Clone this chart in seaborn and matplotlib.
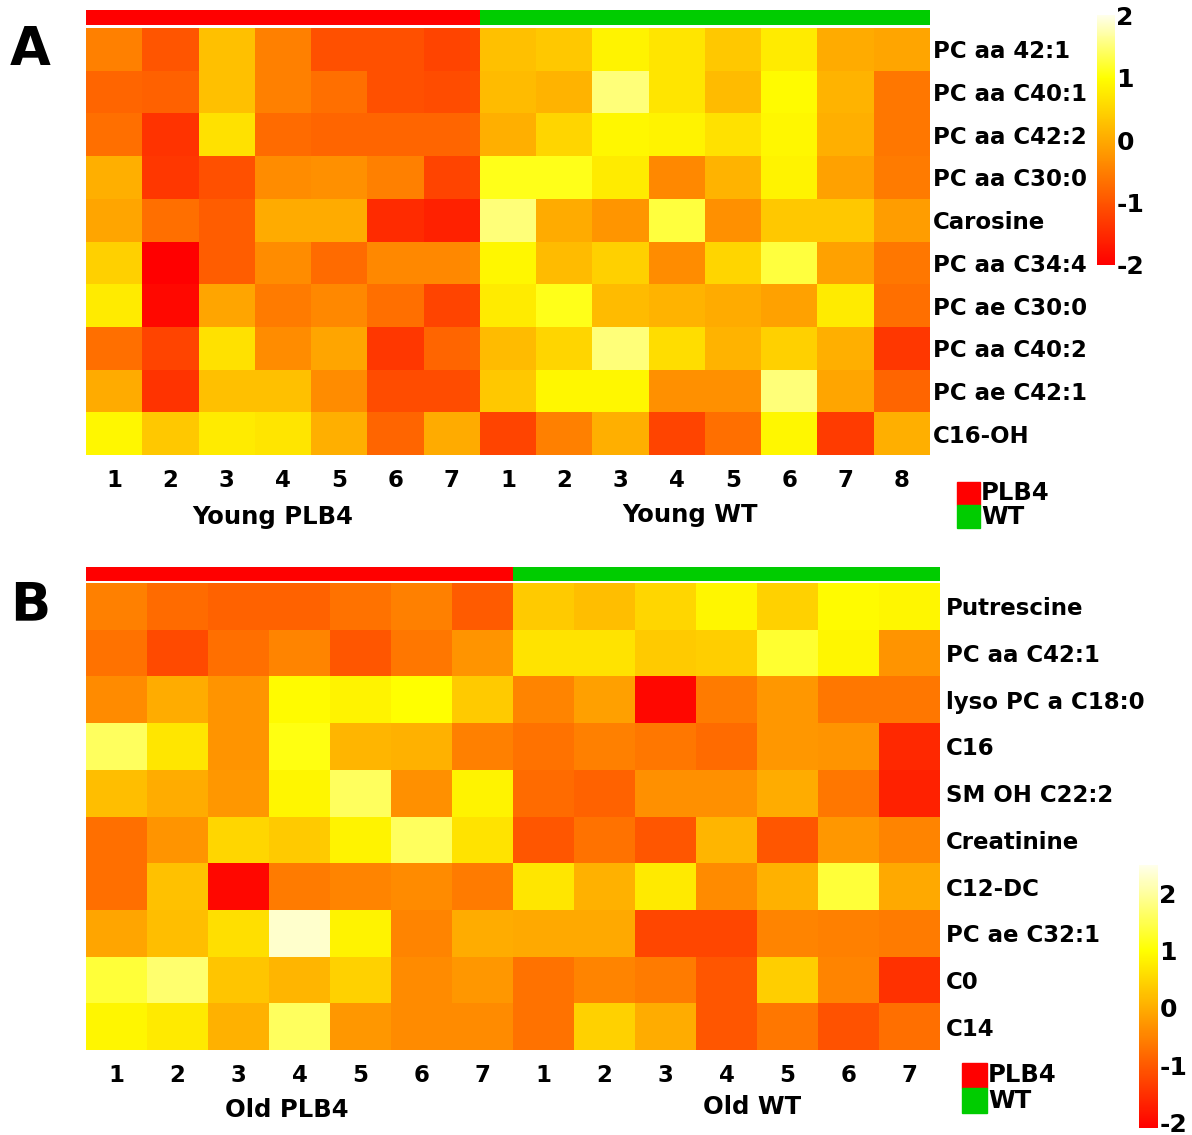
import seaborn as sns
import pandas as pd
import numpy as np
import matplotlib.pyplot as plt
from matplotlib.colors import LinearSegmentedColormap, ListedColormap
from matplotlib.patches import Rectangle

#----- Data -----
young_rows = ["PC aa 42:1", "PC aa C40:1", "PC aa C42:2", "PC aa C30:0", "Carosine",
              "PC aa C34:4", "PC ae C30:0", "PC aa C40:2", "PC ae C42:1", "C16-OH"]
young_plb4 = [
    [-0.5, -1.0, 0.25, -0.5, -1.05, -1.05, -1.2],
    [-0.8, -0.85, 0.25, -0.5, -0.7, -1.05, -1.1],
    [-0.7, -1.4, 0.65, -0.75, -0.8, -0.8, -0.8],
    [0.05, -1.35, -1.05, -0.35, -0.3, -0.5, -1.2],
    [-0.05, -0.7, -0.9, 0.0, 0.0, -1.5, -1.6],
    [0.45, -2.0, -0.9, -0.35, -0.75, -0.4, -0.4],
    [0.75, -1.9, -0.05, -0.55, -0.4, -0.7, -1.2],
    [-0.7, -1.2, 0.65, -0.35, -0.05, -1.35, -0.8],
    [0.0, -1.4, 0.25, 0.25, -0.35, -1.1, -1.1],
    [0.9, 0.35, 0.75, 0.7, 0.05, -0.8, 0.0],
]
young_wt = [
    [0.25, 0.35, 0.85, 0.7, 0.35, 0.75, 0.0, -0.05],
    [0.2, 0.1, 1.5, 0.7, 0.2, 0.95, 0.1, -0.6],
    [0.05, 0.5, 0.9, 0.85, 0.65, 0.9, 0.05, -0.6],
    [1.1, 1.1, 0.75, -0.4, 0.1, 0.85, -0.1, -0.55],
    [1.5, 0.0, -0.25, 1.25, -0.3, 0.35, 0.35, -0.15],
    [0.9, 0.2, 0.45, -0.35, 0.5, 1.25, -0.1, -0.6],
    [0.75, 1.1, 0.2, 0.1, 0.0, -0.1, 0.75, -0.7],
    [0.2, 0.5, 1.5, 0.6, 0.1, 0.45, 0.05, -1.35],
    [0.35, 0.9, 0.9, -0.3, -0.3, 1.5, -0.05, -0.8],
    [-1.2, -0.5, 0.05, -1.2, -0.7, 0.9, -1.3, 0.05],
]

old_rows = ["Putrescine", "PC aa C42:1", "lyso PC a C18:0", "C16", "SM OH C22:2",
            "Creatinine", "C12-DC", "PC ae C32:1", "C0", "C14"]
old_plb4 = [
    [-0.55, -0.8, -0.9, -0.9, -0.7, -0.55, -1.0],
    [-0.7, -1.2, -0.75, -0.5, -1.05, -0.65, -0.3],
    [-0.4, 0.0, -0.3, 0.95, 0.85, 1.0, 0.35],
    [1.6, 0.7, -0.3, 1.1, 0.1, 0.05, -0.55],
    [0.2, 0.0, -0.25, 0.9, 1.6, -0.35, 0.85],
    [-0.75, -0.3, 0.5, 0.35, 0.85, 1.6, 0.65],
    [-0.75, 0.25, -2.0, -0.6, -0.5, -0.4, -0.6],
    [-0.1, 0.2, 0.6, 2.3, 0.85, -0.5, 0.0],
    [1.35, 1.7, 0.3, 0.1, 0.45, -0.4, -0.25],
    [0.9, 0.75, 0.05, 1.6, -0.25, -0.4, -0.4],
]
old_wt = [
    [0.35, 0.2, 0.5, 0.9, 0.45, 0.95, 0.9],
    [0.65, 0.65, 0.35, 0.4, 1.3, 0.9, -0.3],
    [-0.5, -0.15, -2.0, -0.6, -0.25, -0.65, -0.65],
    [-0.7, -0.55, -0.65, -0.8, -0.25, -0.3, -1.6],
    [-0.8, -0.9, -0.35, -0.35, 0.0, -0.65, -1.7],
    [-1.05, -0.7, -1.05, 0.1, -1.05, -0.25, -0.5],
    [0.7, 0.05, 0.75, -0.4, 0.05, 1.35, -0.05],
    [-0.05, -0.05, -1.25, -1.25, -0.5, -0.55, -0.6],
    [-0.7, -0.5, -0.6, -1.05, 0.4, -0.5, -1.5],
    [-0.7, 0.45, 0.0, -1.05, -0.65, -1.1, -0.75],
]

group_names = ["PLB4", "WT"]
group_colors = ["#ff0000", "#00cc00"]

#----- Helpers -----
W, H = 1192, 1135

def px_axes(fig, x0, y0, x1, y1):
    return fig.add_axes([x0 / W, 1 - y1 / H, (x1 - x0) / W, (y1 - y0) / H])

def heat_cmap(vmin, vmax):
    t = (1 - vmin) / (vmax - vmin)
    return LinearSegmentedColormap.from_list(
        "heat", [(0, (1, 0, 0)), (t, (1, 1, 0)), (1, (1, 1, 0.92))])

def panel(fig, plb4, wt, rows, box, ann_box, cbar_box, vmin, vmax, lab_pad, col_pad, group_pos, group_lbls):
    df = pd.DataFrame(np.hstack([np.array(plb4), np.array(wt)]), index=rows)
    n1, n2 = len(plb4[0]), len(wt[0])
    cols = [str(i + 1) for i in range(n1)] + [str(i + 1) for i in range(n2)]

    ax = px_axes(fig, *box)
    cax = px_axes(fig, *cbar_box)
    sns.heatmap(df, ax=ax, cmap=heat_cmap(vmin, vmax), vmin=vmin, vmax=vmax,
                cbar_ax=cax, xticklabels=cols, yticklabels=rows)
    ax.yaxis.tick_right()
    ax.tick_params(axis="y", length=0, pad=lab_pad, labelsize=16.5, rotation=0)
    ax.tick_params(axis="x", length=0, pad=col_pad, labelsize=16.5, rotation=0)
    for t in ax.get_xticklabels() + ax.get_yticklabels():
        t.set_fontweight("bold")
    ax.set_xlabel("")
    ax.set_ylabel("")

    cax.set_yticks([-2, -1, 0, 1, 2])
    cax.set_yticklabels(["-2", "-1", "0", "1", "2"], fontsize=18, fontweight="bold")
    cax.tick_params(length=0, pad=1)
    for s in cax.spines.values():
        s.set_visible(False)

    # group annotation bar
    aax = px_axes(fig, *ann_box)
    grp = pd.DataFrame([[0] * n1 + [1] * n2])
    sns.heatmap(grp, ax=aax, cmap=ListedColormap(group_colors), vmin=0, vmax=1,
                cbar=False, xticklabels=False, yticklabels=False)

    # group labels below
    for (gx, gy), lbl in zip(group_pos, group_lbls):
        fig.text(gx / W, 1 - gy / H, lbl, ha="center", va="center",
                 fontsize=17.5, fontweight="bold")

def legend(fig, x, y, size):
    for i, (name, col) in enumerate(zip(group_names, group_colors)):
        fig.add_artist(Rectangle((x / W, 1 - (y + size * (i + 1)) / H), size / W, size / H,
                                 transform=fig.transFigure, color=col))
        fig.text((x + size + 1) / W, 1 - (y + size * i + size / 2) / H, name,
                 ha="left", va="center", fontsize=17.5, fontweight="bold")

#----- Plot -----
plt.rcParams['font.family'] = ['DejaVu Sans']
fig = plt.figure(figsize=(W / 100, H / 100), dpi=100)

panel(fig, young_plb4, young_wt, young_rows,
      (86, 28, 930, 455), (86, 10, 930, 25), (1097, 15, 1115, 265),
      -2, 2, 2, 10, [(273, 517), (690, 515)], ["Young PLB4", "Young WT"])
legend(fig, 957, 482, 23)

panel(fig, old_plb4, old_wt, old_rows,
      (86, 583, 940, 1050), (86, 567, 940, 581), (1139, 865, 1158, 1128),
      -2.1, 2.5, 4, 10, [(287, 1110), (752, 1107)], ["Old PLB4", "Old WT"])
legend(fig, 962, 1063, 25)

fig.text(30 / W, 1 - 50 / H, "A", ha="center", va="center", fontsize=38, fontweight="bold")
fig.text(30 / W, 1 - 605 / H, "B", ha="center", va="center", fontsize=38, fontweight="bold")

plt.savefig("out.png", dpi=100)
